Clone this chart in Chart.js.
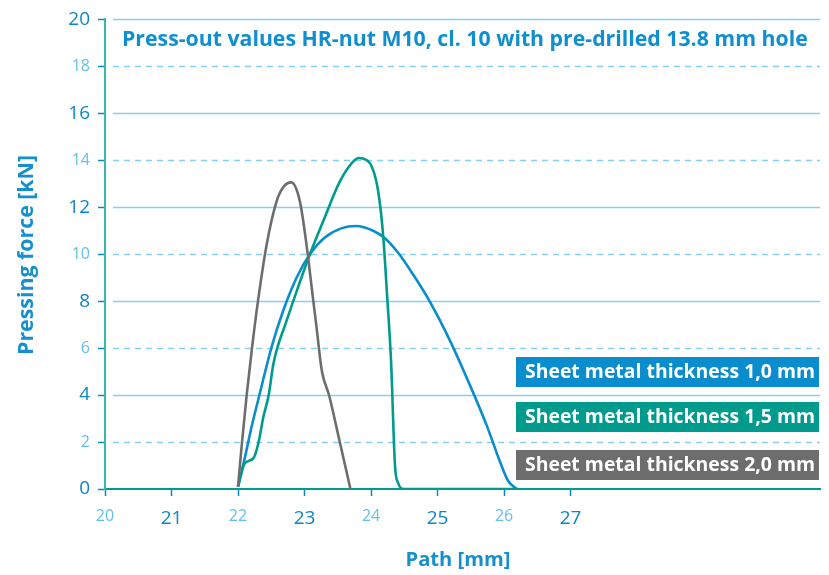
<!DOCTYPE html>
<html>
<head>
<meta charset="utf-8">
<script src="https://cdn.jsdelivr.net/npm/chart.js@4.4.0/dist/chart.umd.min.js"></script>
<style>
    html, body { margin: 0; padding: 0; background: #fff; }
    .chart-container { width: 829px; height: 575px; }
</style>
</head>
<body>
<div class="chart-container"><canvas id="chart"></canvas></div>
<script>
// values
const pathThin = [22.0, 22.1, 22.2, 22.33, 22.5, 22.68, 22.88, 23.08, 23.3, 23.55, 23.78, 24.03, 24.2, 24.41, 24.64, 24.89, 25.19, 25.49, 25.74, 25.94, 26.06, 26.19];
const forceThin = [0.1, 1.3, 2.6, 4.1, 6.0, 7.6, 9.0, 10.0, 10.7, 11.1, 11.2, 11.0, 10.7, 10.05, 9.1, 7.95, 6.3, 4.4, 2.7, 1.15, 0.35, 0];

const pathMid = [22.0, 22.1, 22.23, 22.31, 22.38, 22.46, 22.53, 22.6, 22.71, 22.83, 23.08, 23.28, 23.53, 23.73, 23.82, 23.93, 24.0, 24.08, 24.14, 24.19, 24.24, 24.3, 24.36, 24.41, 24.49, 26.2];
const forceMid = [0.1, 1.09, 1.3, 2.0, 3.06, 3.98, 5.3, 6.1, 7.0, 8.0, 10.0, 11.4, 13.09, 13.94, 14.1, 14.01, 13.8, 13.1, 12.0, 10.5, 8.3, 5.5, 1.0, 0.24, 0, 0];

const pathThick = [22.0, 22.06, 22.13, 22.21, 22.3, 22.43, 22.58, 22.68, 22.8, 22.93, 23.03, 23.12, 23.18, 23.26, 23.37, 23.53, 23.69];
const forceThick = [0.1, 2.0, 4.0, 6.0, 8.0, 10.4, 12.25, 12.85, 13.06, 12.25, 10.4, 8.29, 6.9, 5.04, 3.98, 2.0, 0];

const seriesLabels = ["Sheet metal thickness 1,0 mm", "Sheet metal thickness 1,5 mm", "Sheet metal thickness 2,0 mm"];
const xTicks = [20, 21, 22, 23, 24, 25, 26, 27];
const yTicks = [0, 2, 4, 6, 8, 10, 12, 14, 16, 18, 20];

const titleText = "Press-out values HR-nut M10, cl. 10 with pre-drilled 13.8 mm hole";
const xTitle = "Path [mm]";
const yTitle = "Pressing force [kN]";

const BLUE = "#0a8dcc";
const TEAL = "#009b8d";
const GREY = "#6d6d6d";
const DARK = "#0b86c6";
const LIGHT = "#62c1e8";
const GRID = "#86cfee";
const AXIS = "#3ab4b0";
const FONT = "'Open Sans', 'Noto Sans', sans-serif";

const toPoints = (xs, ys) => xs.map((x, i) => ({ x: x, y: ys[i] }));

// bold text sized so it spans a given width
function fitText(ctx, text, width) {
    ctx.font = "bold 20px " + FONT;
    const size = 20 * width / ctx.measureText(text).width;
    ctx.font = "bold " + size.toFixed(2) + "px " + FONT;
}

const isMajorX = c => c.tick && c.tick.value % 2 === 1;
const isMajorY = c => c.tick && c.tick.value % 4 === 0;
const bigFont = { family: FONT, size: 19, weight: "500" };
const smallFont = { family: FONT, size: 16, weight: "normal" };

const decor = {
    id: "decor",
    beforeDatasetsDraw(chart) {
        const { ctx, chartArea, scales } = chart;
        ctx.save();
        ctx.strokeStyle = GRID;
        ctx.lineWidth = 1.5;
        yTicks.forEach(v => {
            if (v === 0) return;
            const y = Math.round(scales.y.getPixelForValue(v)) + 0.5;
            ctx.setLineDash(v % 4 === 0 ? [] : [6, 5]);
            ctx.beginPath();
            ctx.moveTo(chartArea.left + 8, y);
            ctx.lineTo(chartArea.right, y);
            ctx.stroke();
        });
        ctx.restore();
    },
    afterDatasetsDraw(chart) {
        const { ctx } = chart;
        ctx.save();
        // title inside the plot
        ctx.fillStyle = "#0f8fd0";
        ctx.textBaseline = "middle";
        ctx.textAlign = "left";
        fitText(ctx, titleText, 686);
        ctx.fillText(titleText, 122, 40);

        // legend boxes
        const boxTops = [357, 402, 450];
        const boxColors = [BLUE, TEAL, GREY];
        seriesLabels.forEach((label, i) => {
            ctx.fillStyle = boxColors[i];
            ctx.fillRect(516, boxTops[i], 303, 30);
            ctx.fillStyle = "#fff";
            fitText(ctx, label, 290);
            ctx.fillText(label, 525, boxTops[i] + 15.5);
        });

        // axis titles
        ctx.fillStyle = "#1590cf";
        ctx.textAlign = "center";
        fitText(ctx, xTitle, 105);
        ctx.fillText(xTitle, 458, 560);
        fitText(ctx, yTitle, 200);
        ctx.translate(27, 255);
        ctx.rotate(-Math.PI / 2);
        ctx.fillText(yTitle, 0, 0);
        ctx.restore();
    }
};

const lineSet = (label, pts, color) => ({
    label: label,
    data: pts,
    showLine: true,
    borderColor: color,
    backgroundColor: color,
    borderWidth: 2.6,
    pointRadius: 0,
    cubicInterpolationMode: "monotone",
    fill: false,
});

new Chart(document.getElementById("chart").getContext("2d"), {
    type: "scatter",
    data: {
        datasets: [
            lineSet(seriesLabels[2], toPoints(pathThick, forceThick), GREY),
            lineSet(seriesLabels[1], toPoints(pathMid, forceMid), TEAL),
            lineSet(seriesLabels[0], toPoints(pathThin, forceThin), BLUE),
        ],
    },
    options: {
        responsive: true,
        maintainAspectRatio: false,
        animation: false,
        layout: { padding: { top: 18, right: 9, left: 0, bottom: 0 } },
        plugins: {
            legend: { display: false },
            tooltip: { enabled: false },
        },
        scales: {
            x: {
                type: "linear",
                min: 20,
                max: 30.75,
                afterBuildTicks: s => { s.ticks = xTicks.map(v => ({ value: v })); },
                afterFit: s => { s.height = 86; },
                ticks: {
                    padding: 11,
                    maxRotation: 0,
                    autoSkip: false,
                    color: c => (isMajorX(c) ? DARK : LIGHT),
                    font: c => (isMajorX(c) ? bigFont : smallFont),
                },
                grid: {
                    drawOnChartArea: false,
                    drawTicks: true,
                    tickLength: 7,
                    tickColor: DARK,
                    tickWidth: 1.5,
                },
                border: { color: TEAL, width: 2 },
            },
            y: {
                min: 0,
                max: 20,
                afterBuildTicks: s => { s.ticks = yTicks.map(v => ({ value: v })); },
                afterFit: s => { s.width = 105; },
                ticks: {
                    padding: 8,
                    color: c => (isMajorY(c) ? DARK : LIGHT),
                    font: c => (isMajorY(c) ? bigFont : smallFont),
                },
                grid: {
                    drawOnChartArea: false,
                    drawTicks: true,
                    tickLength: 7,
                    tickColor: DARK,
                    tickWidth: 1.5,
                },
                border: { color: AXIS, width: 2 },
            },
        },
    },
    plugins: [decor],
});
</script>
</body>
</html>
